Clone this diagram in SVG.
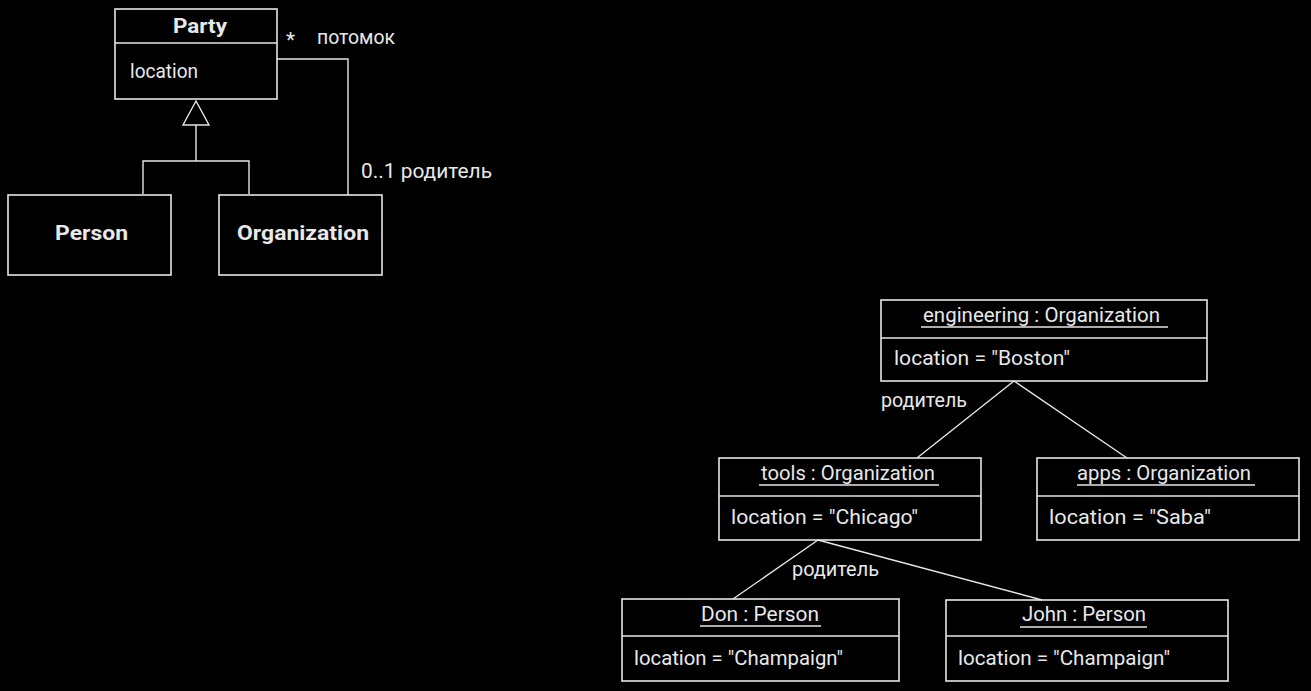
<svg xmlns="http://www.w3.org/2000/svg" width="1311" height="691" viewBox="0 0 1311 691">
<style>
.box{fill:none;stroke:#e6e6e6;stroke-width:1.6}
.ln{fill:none;stroke:#e6e6e6;stroke-width:1.4}
text{fill:#e8e8e8;font-family:"Roboto","Liberation Sans",sans-serif;font-size:21px}
.b{font-weight:bold;font-size:21px}
.m{text-anchor:middle}
</style>
<rect width="1311" height="691" fill="#000"/>
<g id="connectors">
<polygon class="ln" points="196,101 183,125 209,125"/>
<polyline class="ln" points="196,125 196,161"/>
<polyline class="ln" points="143,194 143,161 249,161 249,194"/>
<polyline class="ln" points="277,59 348,59 348,195"/>
<text x="286" y="47">*</text>
<text x="317" y="44" textLength="78" lengthAdjust="spacingAndGlyphs">потомок</text>
<text x="361" y="178" textLength="131" lengthAdjust="spacingAndGlyphs">0..1 родитель</text>
<line class="ln" x1="1014" y1="381" x2="917" y2="458"/>
<line class="ln" x1="1014" y1="381" x2="1127" y2="458"/>
<line class="ln" x1="818" y1="540" x2="733" y2="599"/>
<line class="ln" x1="818" y1="540" x2="1042" y2="600"/>
<text x="881" y="407" textLength="86" lengthAdjust="spacingAndGlyphs">родитель</text>
<text x="792" y="576" textLength="87" lengthAdjust="spacingAndGlyphs">родитель</text>
</g>
<g id="party">
<rect class="box" x="115" y="9" width="162" height="90"/>
<line class="ln" x1="115" y1="43" x2="277" y2="43"/>
<text class="b" x="173" y="33" textLength="54" lengthAdjust="spacingAndGlyphs">Party</text>
<text x="130" y="78" textLength="68" lengthAdjust="spacingAndGlyphs">location</text>
</g>
<g id="person">
<rect class="box" x="8" y="195" width="163" height="80"/>
<text class="b" x="55" y="240" textLength="73" lengthAdjust="spacingAndGlyphs">Person</text>
</g>
<g id="organization">
<rect class="box" x="219" y="195" width="163" height="80"/>
<text class="b" x="237" y="240" textLength="132" lengthAdjust="spacingAndGlyphs">Organization</text>
</g>
<g id="engineering">
<rect class="box" x="881" y="300" width="326" height="81"/>
<line class="ln" x1="881" y1="338" x2="1207" y2="338"/>
<text x="923" y="322" textLength="237" lengthAdjust="spacingAndGlyphs">engineering : Organization</text>
<line class="ln" x1="921" y1="327" x2="1168" y2="327"/>
<text x="894" y="365" textLength="176" lengthAdjust="spacingAndGlyphs">location = "Boston"</text>
</g>
<g id="tools">
<rect class="box" x="719" y="458" width="262" height="82"/>
<line class="ln" x1="719" y1="496" x2="981" y2="496"/>
<text x="761" y="480" textLength="174" lengthAdjust="spacingAndGlyphs">tools : Organization</text>
<line class="ln" x1="759" y1="485" x2="939" y2="485"/>
<text x="731" y="524" textLength="187" lengthAdjust="spacingAndGlyphs">location = "Chicago"</text>
</g>
<g id="apps">
<rect class="box" x="1037" y="458" width="262" height="82"/>
<line class="ln" x1="1037" y1="496" x2="1299" y2="496"/>
<text x="1077" y="480" textLength="174" lengthAdjust="spacingAndGlyphs">apps : Organization</text>
<line class="ln" x1="1077" y1="485" x2="1255" y2="485"/>
<text x="1049" y="524" textLength="162" lengthAdjust="spacingAndGlyphs">location = "Saba"</text>
</g>
<g id="don">
<rect class="box" x="622" y="599" width="277" height="82"/>
<line class="ln" x1="622" y1="636" x2="899" y2="636"/>
<text x="701" y="621" textLength="118" lengthAdjust="spacingAndGlyphs">Don : Person</text>
<line class="ln" x1="700" y1="626" x2="821" y2="626"/>
<text x="634" y="665" textLength="209" lengthAdjust="spacingAndGlyphs">location = "Champaign"</text>
</g>
<g id="john">
<rect class="box" x="946" y="600" width="282" height="81"/>
<line class="ln" x1="946" y1="636" x2="1228" y2="636"/>
<text x="1022" y="621" textLength="124" lengthAdjust="spacingAndGlyphs">John : Person</text>
<line class="ln" x1="1020" y1="627" x2="1147" y2="627"/>
<text x="958" y="665" textLength="212" lengthAdjust="spacingAndGlyphs">location = "Champaign"</text>
</g>
</svg>
